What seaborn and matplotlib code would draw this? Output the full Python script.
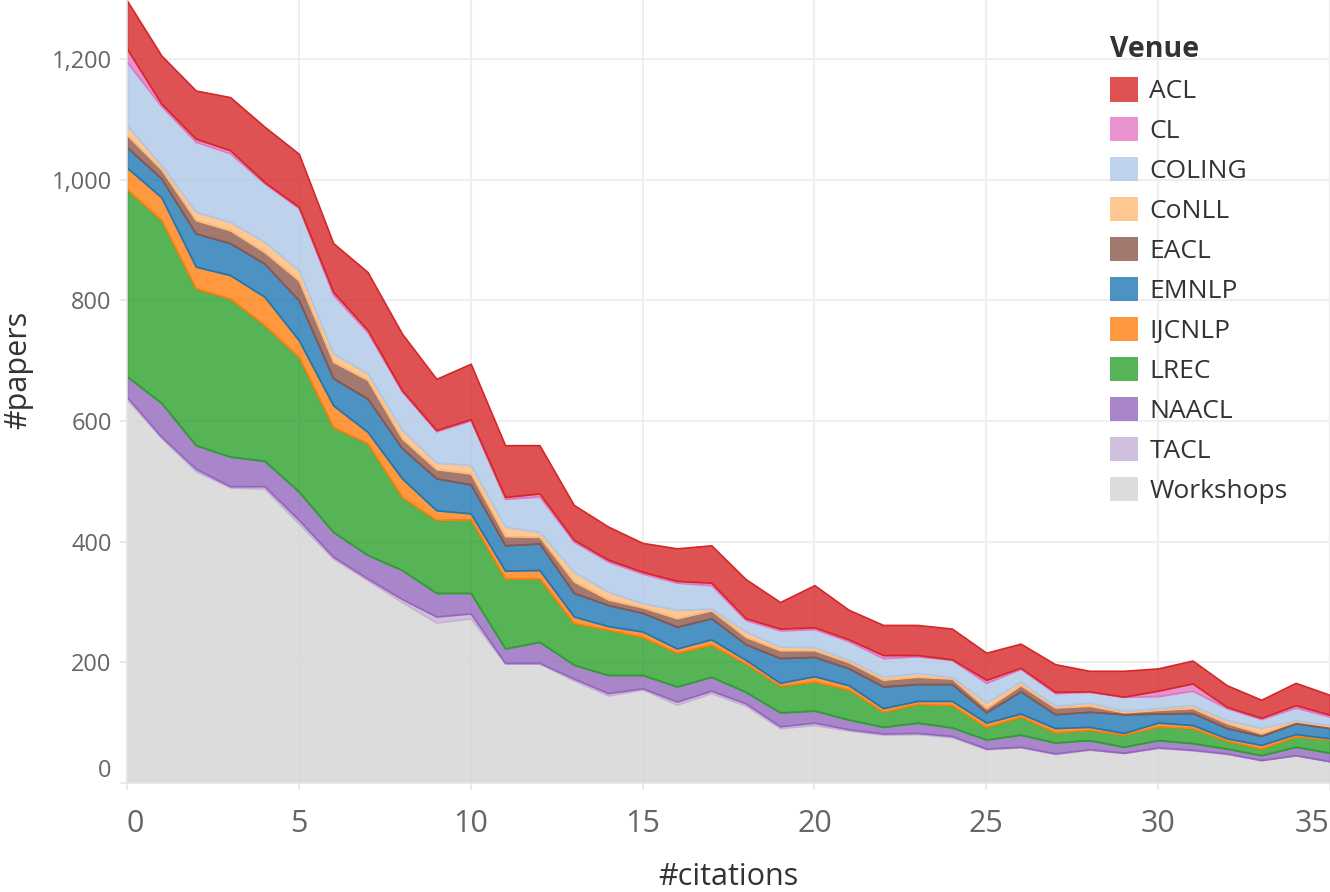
import numpy as np
import pandas as pd
import matplotlib
matplotlib.use("Agg")
import matplotlib.pyplot as plt
from matplotlib.patches import Patch
from matplotlib.ticker import FuncFormatter
import seaborn as sns

# number of citations (x) and papers per venue (stacked, bottom to top)
citations = list(range(36))

workshops = [636, 572, 517, 490, 488, 430, 372, 336, 300, 266, 273, 198, 198, 170, 145, 155, 130, 149,
             128, 91, 96, 87, 80, 81, 76, 56, 59, 48, 55, 50, 58, 54, 48, 38, 46, 36]
tacl = [4, 2, 4, 2, 4, 6, 3, 3, 5, 10, 8, 1, 1, 3, 4, 2, 5, 4, 4, 3, 4, 2, 2, 2, 2, 1, 1, 1, 1, 0,
        1, 1, 1, 0, 0, 0]
naacl = [34, 56, 39, 49, 42, 47, 41, 39, 48, 39, 34, 24, 35, 23, 30, 22, 25, 23, 19, 23, 20, 16, 11,
         17, 14, 15, 20, 18, 15, 10, 12, 11, 8, 8, 14, 14]
lrec = [310, 303, 260, 262, 225, 223, 174, 185, 121, 121, 122, 116, 105, 69, 75, 63, 56, 53, 47, 44,
        48, 50, 25, 31, 37, 21, 30, 17, 17, 20, 23, 25, 13, 11, 17, 22]
ijcnlp = [36, 38, 36, 39, 47, 28, 36, 19, 31, 16, 10, 13, 14, 11, 6, 9, 7, 9, 6, 5, 9, 7, 6, 5, 7, 7,
          5, 7, 5, 3, 6, 5, 4, 6, 4, 2]
emnlp = [34, 31, 55, 53, 55, 66, 45, 55, 50, 53, 48, 42, 44, 39, 35, 31, 36, 35, 26, 41, 32, 28, 36,
         28, 28, 17, 37, 23, 25, 31, 15, 20, 17, 15, 18, 17]
eacl = [20, 15, 22, 21, 19, 33, 27, 31, 16, 15, 18, 15, 11, 19, 9, 9, 14, 13, 12, 13, 11, 10, 11, 12,
        9, 7, 10, 11, 10, 3, 6, 8, 8, 4, 3, 3]
conll = [16, 7, 14, 14, 17, 17, 14, 11, 14, 11, 14, 16, 8, 16, 13, 7, 14, 3, 9, 6, 5, 4, 5, 6, 3, 9,
         6, 3, 5, 3, 3, 5, 5, 9, 2, 2]
coling = [105, 98, 116, 114, 97, 103, 97, 68, 64, 52, 74, 46, 59, 50, 50, 49, 45, 39, 19, 27, 30, 31,
          31, 28, 28, 33, 21, 21, 18, 23, 20, 24, 20, 15, 21, 14]
cl = [22, 4, 5, 5, 2, 2, 5, 4, 2, 2, 2, 3, 5, 3, 3, 3, 3, 4, 3, 3, 3, 3, 5, 2, 1, 5, 2, 2, 1, 0, 9,
      12, 2, 2, 4, 3]
acl = [80, 80, 80, 88, 92, 88, 81, 96, 94, 85, 92, 86, 80, 58, 55, 48, 54, 62, 65, 44, 70, 49, 50, 50,
       51, 45, 40, 46, 34, 43, 37, 38, 36, 30, 37, 33]

x_ticks = [0, 5, 10, 15, 20, 25, 30, 35]
y_ticks = [0, 200, 400, 600, 800, 1000, 1200]

venues = ["Workshops", "TACL", "NAACL", "LREC", "IJCNLP", "EMNLP", "EACL", "CoNLL", "COLING", "CL", "ACL"]
df = pd.DataFrame({
    "Workshops": workshops, "TACL": tacl, "NAACL": naacl, "LREC": lrec, "IJCNLP": ijcnlp,
    "EMNLP": emnlp, "EACL": eacl, "CoNLL": conll, "COLING": coling, "CL": cl, "ACL": acl,
}, index=citations)

sns.set_theme(style="white")
plt.rcParams["font.family"] = ["Open Sans", "DejaVu Sans"]

tab20 = sns.color_palette("tab20")
colors = {
    "ACL": tab20[6], "CL": tab20[12], "COLING": tab20[1], "CoNLL": tab20[3], "EACL": tab20[10],
    "EMNLP": tab20[0], "IJCNLP": tab20[2], "LREC": tab20[4], "NAACL": tab20[8], "TACL": tab20[9],
    "Workshops": "#d4d4d4",
}

fig = plt.figure(figsize=(13.3, 8.92), dpi=100)
ax = fig.add_axes([127 / 1330, 109 / 892, 1203 / 1330, 783 / 892])

polys = ax.stackplot(df.index, [df[v] for v in venues], zorder=2)
for p, v in zip(polys, venues):
    p.set_facecolor((*matplotlib.colors.to_rgb(colors[v]), 0.8))
    p.set_edgecolor("none" if v == "Workshops" else colors[v])
    p.set_linewidth(1.2)

ax.set_xlim(0, 35)
ax.set_ylim(0, 1298)
ax.set_xticks(x_ticks)
ax.set_yticks(y_ticks)
ax.yaxis.set_major_formatter(FuncFormatter(lambda v, _: f"{int(v):,}"))

ax.grid(True, color="#efefef", linewidth=1.5, zorder=0)
ax.set_axisbelow(True)
for side in ["top", "right"]:
    ax.spines[side].set_visible(False)
for side in ["left", "bottom"]:
    ax.spines[side].set_color("#e6e6e6")
    ax.spines[side].set_linewidth(1.2)

ax.tick_params(axis="y", length=5, color="#e6e6e6", width=1.2, pad=6, labelsize=17, labelcolor="#666666")
ax.tick_params(axis="x", length=5, color="#e6e6e6", width=1.2, pad=14, labelsize=22, labelcolor="#666666")
ax.tick_params(left=True, bottom=True)

# keep the end labels inside the figure, like the original
xlabels = ax.get_xticklabels()
xlabels[0].set_ha("left")
xlabels[-1].set_ha("right")
ylabels = ax.get_yticklabels()
ylabels[0].set_va("bottom")

ax.set_xlabel("#citations", fontsize=22, color="#333333", va="center")
ax.xaxis.set_label_coords(0.5, -94 / 783)
ax.set_ylabel("#papers", fontsize=22, color="#333333", va="center")
ax.yaxis.set_label_coords(-109 / 1203, (783 - 370) / 783)

handles = [Patch(facecolor=(*matplotlib.colors.to_rgb(colors[v]), 0.8), edgecolor="none")
           for v in venues[::-1]]
leg = ax.legend(handles, venues[::-1], title="Venue", loc="upper left",
                bbox_to_anchor=(1097 / 1330, 1 - 22 / 892), bbox_transform=fig.transFigure,
                frameon=False, fontsize=19, title_fontsize=20.5, handlelength=1.06, handleheight=1.06,
                labelspacing=0.48, handletextpad=0.42, borderpad=0, alignment="left")
leg.get_title().set_fontweight("bold")
leg.get_title().set_color("#333333")
for t in leg.get_texts():
    t.set_color("#333333")

fig.savefig("out.png", dpi=100)
